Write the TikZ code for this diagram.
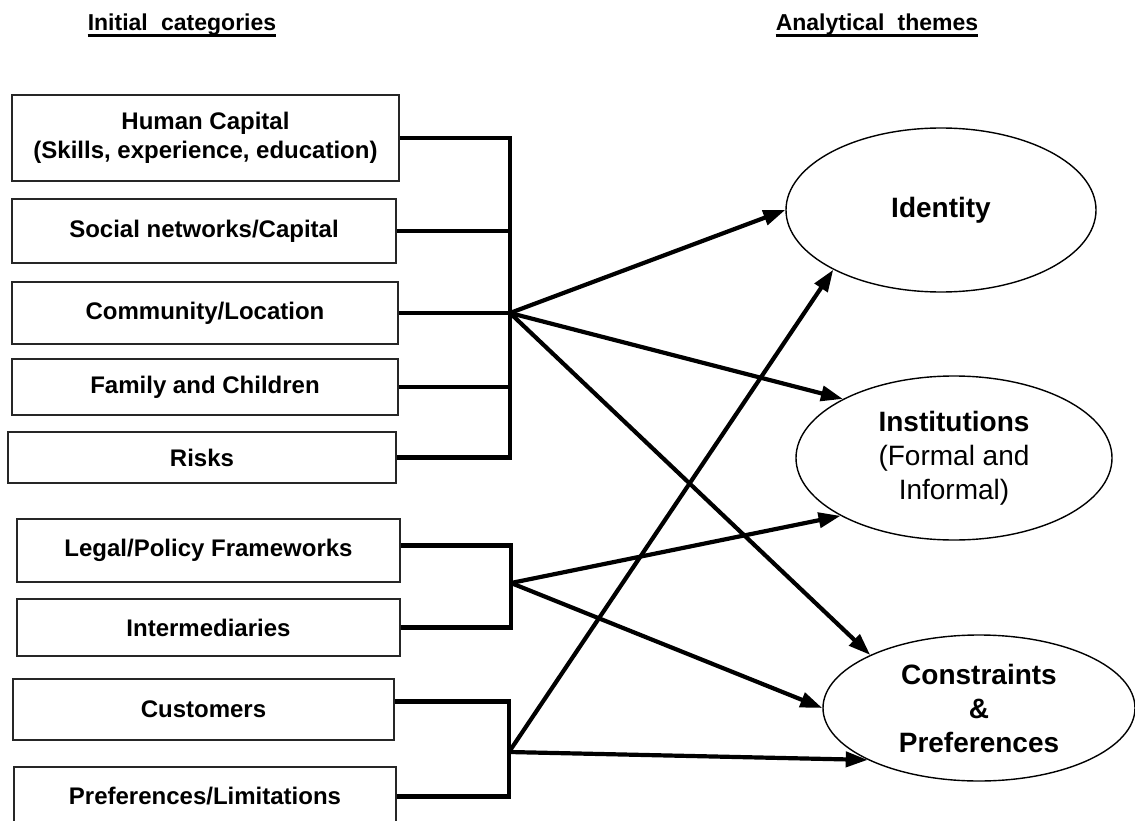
\documentclass[tikz,border=0pt]{standalone}
\usepackage{fontspec}
\setmainfont{Liberation Sans}
\usetikzlibrary{arrows.meta,shapes.geometric}
\begin{document}
\begin{tikzpicture}[x=1pt,y=-1pt,
  cat/.style={draw=black!85, line width=1.8pt, rectangle, inner sep=0pt, align=center,
    font=\fontsize{24}{29}\selectfont\bfseries},
  theme/.style={draw, ellipse, line width=1.4pt, inner sep=0pt, align=center,
    font=\fontsize{28}{34}\selectfont},
  br/.style={line width=4.5pt, line join=miter},
  arr/.style={line width=4.2pt, -{Triangle[length=22pt,width=15pt]}},
  head/.style={inner sep=0pt, anchor=base, font=\fontsize{23}{26}\selectfont\bfseries},
  uline/.style={line width=2.8pt}]
\useasboundingbox (0,0) rectangle (1135,821);

% headers
\node[head] (h1) at (182,31) {Initial\hspace{0.3em} categories};
\node[head] (h2) at (877,31) {Analytical\hspace{0.3em} themes};
\draw[uline] ([yshift=-4.5pt]h1.base west) -- ([yshift=-4.5pt]h1.base east);
\draw[uline] ([yshift=-4.5pt]h2.base west) -- ([yshift=-4.5pt]h2.base east);

% category boxes
\node[cat, minimum width=387pt, minimum height=86pt] (hc) at (205.5,138) {Human Capital\\(Skills, experience, education)};
\node[cat, minimum width=384pt, minimum height=64pt] (sn) at (204,231) {Social networks/Capital};
\node[cat, minimum width=386pt, minimum height=62pt] (cl) at (205,313) {Community/Location};
\node[cat, minimum width=386pt, minimum height=56pt] (fc) at (205,387) {Family and Children};
\node[cat, minimum width=388pt, minimum height=51pt] (rk) at (202,457.5) {Risks};
\node[cat, minimum width=383pt, minimum height=63pt] (lp) at (208.5,550.5) {Legal/Policy Frameworks};
\node[cat, minimum width=383pt, minimum height=57pt] (im) at (208.5,627.5) {Intermediaries};
\node[cat, minimum width=381pt, minimum height=61pt] (cu) at (203.5,709.5) {Customers};
\node[cat, minimum width=382pt, minimum height=59pt] (pl) at (205,796.5) {Preferences/Limitations};

% theme ellipses
\node[theme, minimum width=310pt, minimum height=164pt] (id) at (941,210) {\bfseries Identity};
\node[theme, minimum width=316pt, minimum height=164pt] (in) at (954,458) {\textbf{Institutions}\\(Formal and\\Informal)};
\node[theme, minimum width=312pt, minimum height=146pt] (cp) at (979,708) {\bfseries Constraints\\\bfseries \&\\\bfseries Preferences};

% junctions
\coordinate (j1) at (510,313);
\coordinate (j2) at (511,583);
\coordinate (j3) at (509,752);

% brackets
\draw[br] (hc.east) -- (hc.east -| j1) -- (rk.east -| j1) -- (rk.east);
\draw[br] (sn.east) -- (sn.east -| j1);
\draw[br] (cl.east) -- (j1);
\draw[br] (fc.east) -- (fc.east -| j1);

\draw[br] ([yshift=5pt]lp.east) -- ([yshift=5pt]lp.east -| j2) -- (im.east -| j2) -- (im.east);
\draw[br] ([yshift=8pt]cu.east) -- ([yshift=8pt]cu.east -| j3) -- (pl.east -| j3) -- (pl.east);

% arrows
\draw[arr] (j1) -- (id.west);
\draw[arr] (j1) -- (in.152);
\draw[arr] (j1) -- (cp.154);
\draw[arr] (j2) -- (in.207);
\draw[arr] (j2) -- (cp.west);
\draw[arr] (j3) -- (id.209);
\draw[arr] (j3) -- (cp.205.5);
\end{tikzpicture}
\end{document}
